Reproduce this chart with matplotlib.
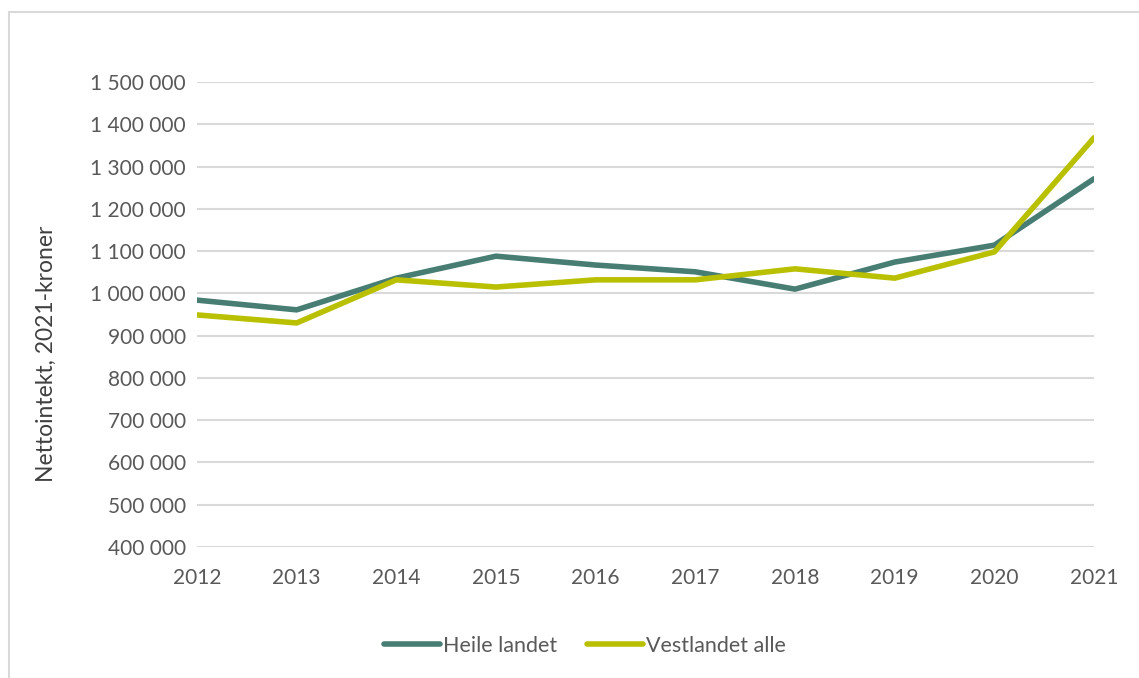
import matplotlib
matplotlib.use("Agg")
import matplotlib.pyplot as plt
from matplotlib.patches import Rectangle
from matplotlib.ticker import FuncFormatter

years = [2012, 2013, 2014, 2015, 2016, 2017, 2018, 2019, 2020, 2021]
heile_landet = [984000, 961000, 1036000, 1088000, 1067000, 1051000, 1010000, 1074000, 1114000, 1271000]
vestlandet_alle = [949000, 930000, 1032000, 1015000, 1032000, 1032000, 1058000, 1036000, 1098000, 1368000]
y_ticks = [400000, 500000, 600000, 700000, 800000, 900000, 1000000, 1100000, 1200000, 1300000, 1400000, 1500000]

plt.rcParams['font.family'] = ['Lato', 'DejaVu Sans']
text_col = "#595959"

fig = plt.figure(figsize=(11.39, 6.78), dpi=100)
ax = fig.add_axes([197 / 1139, 1 - 547 / 678, (1094 - 197) / 1139, (547 - 82) / 678])

# outer chart border
fig.patches.append(Rectangle((9 / 1139, -0.05), 1.2, 1 - 12 / 678 + 0.05, transform=fig.transFigure,
                             fill=False, edgecolor="#d9d9d9", linewidth=1.5))

ax.plot(years, heile_landet, color="#477d72", linewidth=4, label="Heile landet", solid_capstyle="round")
ax.plot(years, vestlandet_alle, color="#b9c000", linewidth=4, label="Vestlandet alle", solid_capstyle="round")

ax.set_xlim(2012, 2021)
ax.set_ylim(400000, 1500000)
ax.set_yticks(y_ticks)
ax.set_xticks(years)
ax.yaxis.set_major_formatter(FuncFormatter(lambda v, p: f"{int(v):,}".replace(",", " ")))
ax.grid(axis="y", color="#d9d9d9", linewidth=1.5)
ax.set_axisbelow(True)
for s in ax.spines.values():
    s.set_visible(False)
ax.tick_params(length=0, labelsize=15, colors=text_col, pad=8)
ax.tick_params(axis="x", pad=15)
ax.set_ylabel("Nettointekt, 2021-kroner", fontsize=16.5, color="#404040")
ax.yaxis.set_label_coords(-0.156, 0.415)

fig.legend(loc="center", bbox_to_anchor=(585 / 1139, 1 - 646 / 678), ncol=2, frameon=False,
           fontsize=15.5, labelcolor=text_col, handlelength=2.6, handletextpad=0.15, columnspacing=1.4)

fig.savefig("out.png", dpi=100)
